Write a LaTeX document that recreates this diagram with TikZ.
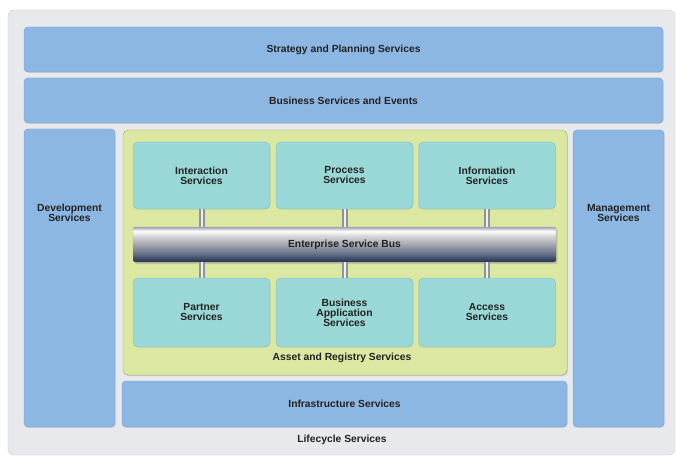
\documentclass[tikz,border=0pt]{standalone}
\usepackage{fontspec}
\setmainfont{Liberation Sans}
\usetikzlibrary{shadows}
\definecolor{panel}{HTML}{E8E9EC}
\definecolor{panelline}{HTML}{C9CBD0}
\definecolor{band}{HTML}{8DB7E3}
\definecolor{bandline}{HTML}{719ECF}
\definecolor{asset}{HTML}{DCE8A1}
\definecolor{assetline}{HTML}{A4B267}
\definecolor{svc}{HTML}{99D8D6}
\definecolor{svcline}{HTML}{7DBFBF}
\definecolor{ink}{HTML}{222222}
\definecolor{esbdark}{HTML}{2B3B58}
\definecolor{esbmid}{HTML}{66728A}
\definecolor{esbgray}{HTML}{ABADB4}
\definecolor{esblight}{HTML}{DADADB}
\definecolor{esbtop}{HTML}{9EA5B8}
\pgfdeclareverticalshading{busshade}{100bp}{color(0bp)=(esbdark); color(27bp)=(esbdark); color(37bp)=(esbmid); color(52bp)=(esbgray); color(63bp)=(esblight); color(69bp)=(white); color(75bp)=(esbtop); color(100bp)=(esbtop)}
\begin{document}
\begin{tikzpicture}[x = 1pt, y = -1pt, font = \bfseries\fontsize{10.3}{10}\selectfont,
		every node/.style = {text = ink, align = center, inner sep = 0pt},
		band/.style = {draw = bandline, fill = band, rounded corners = 4pt, drop shadow = {shadow xshift = 0.6pt, shadow yshift = -0.8pt, opacity = 0.25}},
		svcbox/.style = {draw = svcline, fill = svc, rounded corners = 5pt, minimum width = 137, drop shadow = {shadow xshift = 0.5pt, shadow yshift = -0.6pt, opacity = 0.2}},
		link/.style = {draw = esbgray!85!black, double = white!80!esbgray, double distance = 2pt, line width = 2pt}]
		\useasboundingbox (0, 0) rectangle (677, 457);
		\node[draw = panelline, fill = panel, rounded corners = 6pt, minimum width = 667, minimum height = 445] (panel) at (341.5, 232.5) {};
		\node[band, minimum width = 639, minimum height = 45] (strat) at (343.5, 49.5) {Strategy and Planning Services};
		\node[band, minimum width = 639, minimum height = 45] (bus) at (343.5, 100.5) {Business Services and Events};
		\node[band, minimum width = 91, minimum height = 298] (dev) at (69.5, 278) {};
		\node (devtxt) at (69.5, 213) {Development\\Services};
		\node[band, minimum width = 91, minimum height = 297] (mgmt) at (618.5, 278.5) {};
		\node (mgmttxt) at (618.5, 213) {Management\\Services};
		\node[draw = assetline, fill = asset, rounded corners = 5pt, minimum width = 444, minimum height = 245, drop shadow = {shadow xshift = 0.8pt, shadow yshift = -1pt, opacity = 0.35}] (asset) at (345, 252.5) {};
		\node (assettxt) at (342, 358) {Asset and Registry Services};
		\node[band, minimum width = 445, minimum height = 46] (infra) at (344.5, 404) {Infrastructure Services};
		\node (lifetxt) at (342, 440) {Lifecycle Services};
		\node[svcbox, minimum height = 67] (inter) at (201.5, 175.5) {Interaction\\Services};
		\node[svcbox, minimum height = 67] (proc) at (344.5, 175.5) {Process\\Services};
		\node[svcbox, minimum height = 67] (info) at (487, 175.5) {Information\\Services};
		\node[svcbox, minimum height = 69] (part) at (201.5, 312.5) {Partner\\Services};
		\node[svcbox, minimum height = 69] (bapp) at (344.5, 312.5) {Business\\Application\\Services};
		\node[svcbox, minimum height = 69] (acc) at (487, 312.5) {Access\\Services};
		\node[shading = busshade, draw = esbtop!80!black, draw opacity = 0.4, rounded corners = 1.5pt, minimum width = 423, minimum height = 35, drop shadow = {shadow xshift = 1.5pt, shadow yshift = -2pt, opacity = 0.3}] (esb) at (344.5, 244.5) {Enterprise Service Bus};
		\draw[link] (inter.south) -- (esb.north -| inter);
		\draw[link] (proc.south) -- (esb.north -| proc);
		\draw[link] (info.south) -- (esb.north -| info);
		\draw[link] (esb.south -| part) -- (part.north);
		\draw[link] (esb.south -| bapp) -- (bapp.north);
		\draw[link] (esb.south -| acc) -- (acc.north);
	\end{tikzpicture}
\end{document}
